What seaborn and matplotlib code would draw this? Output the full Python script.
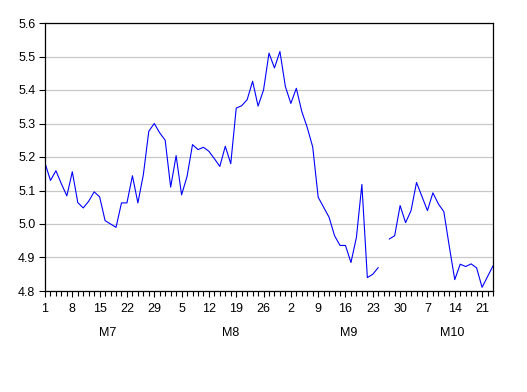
### IMPORTS
import numpy as np
import pandas as pd
import matplotlib
matplotlib.use("Agg")
import matplotlib.pyplot as plt
import matplotlib.transforms as mtransforms
import seaborn as sb


### DATA - business days, 1 Jul to 23 Oct (one missing day on 25 Sep)
start_date = "2013-07-01"
end_date = "2013-10-23"

values = [
    5.182, 5.130, 5.159, 5.120, 5.084, 5.156, 5.064, 5.048, 5.068, 5.096,
    5.081, 5.010, 5.000, 4.990, 5.063, 5.063, 5.144, 5.063, 5.147, 5.277,
    5.300, 5.272, 5.250, 5.110, 5.204, 5.087, 5.142, 5.237, 5.222, 5.229,
    5.217, 5.195, 5.172, 5.232, 5.180, 5.346, 5.353, 5.371, 5.426, 5.352,
    5.400, 5.510, 5.466, 5.515, 5.410, 5.360, 5.405, 5.336, 5.288, 5.230,
    5.080, 5.050, 5.020, 4.965, 4.936, 4.936, 4.885, 4.960, 5.118, 4.840,
    4.850, 4.870, np.nan, 4.955, 4.965, 5.055, 5.004, 5.040, 5.124, 5.082,
    5.040, 5.093, 5.060, 5.037, 4.933, 4.834, 4.880, 4.873, 4.881, 4.869,
    4.811, 4.843, 4.875,
]

y_ticks = [4.8, 4.9, 5.0, 5.1, 5.2, 5.3, 5.4, 5.5, 5.6]


### BUILD TABLE
dates = pd.bdate_range(start_date, end_date)
df = pd.DataFrame({"date": dates, "value": values})
df["pos"] = np.arange(len(df))
# a new segment starts after each missing value, so the line breaks there
df["segment"] = df["value"].isna().cumsum()

week_pos = df.loc[df["date"].dt.weekday == 0, "pos"].tolist()
week_lab = [str(d.day) for d in df.loc[df["date"].dt.weekday == 0, "date"]]

months = df.groupby(df["date"].dt.month)["pos"].agg(["min", "max"])
month_pos = ((months["min"] + months["max"] + 1) / 2).tolist()
month_lab = ["M" + str(m) for m in months.index]


### PLOT
sb.set_style("white")
plt.rcParams["font.family"] = ["Liberation Sans", "DejaVu Sans"]

fig = plt.figure(figsize=(5.27, 3.92), dpi=100)
ax = fig.add_axes([45 / 527, 1 - 291 / 392, 448 / 527, 268 / 392])

sb.lineplot(data=df.dropna(), x="pos", y="value", units="segment",
            estimator=None, color="#0000ff", linewidth=0.8, ax=ax)

ax.set_xlim(0, len(df) - 1)
ax.set_ylim(4.8, 5.6)
ax.set_yticks(y_ticks)
ax.set_yticklabels([f"{t:.1f}" for t in y_ticks])
ax.set_xticks(week_pos)
ax.set_xticklabels(week_lab)
ax.set_xticks(df["pos"].tolist(), minor=True)
ax.set_xlabel("")
ax.set_ylabel("")

ax.grid(axis="y", color="#c8c8c8", linewidth=0.9)
ax.grid(axis="x", visible=False)
for s in ax.spines.values():
    s.set_color("black")
    s.set_linewidth(0.9)

ax.tick_params(axis="both", which="major", labelsize=9, colors="black",
               direction="out", length=4, width=0.8)
ax.tick_params(axis="x", which="major", pad=5)
ax.tick_params(axis="y", which="major", pad=3)
ax.tick_params(axis="x", which="minor", direction="out", length=3.5,
               width=0.8, color="black", bottom=True)
ax.tick_params(axis="y", which="major", left=True)
ax.tick_params(axis="x", which="major", bottom=True)

trans = mtransforms.blended_transform_factory(ax.transData, ax.transAxes)
for p, lab in zip(month_pos, month_lab):
    ax.text(p, -0.155, lab, transform=trans, ha="center", va="center",
            fontsize=9, color="black")

fig.savefig("out.png", dpi=100)
